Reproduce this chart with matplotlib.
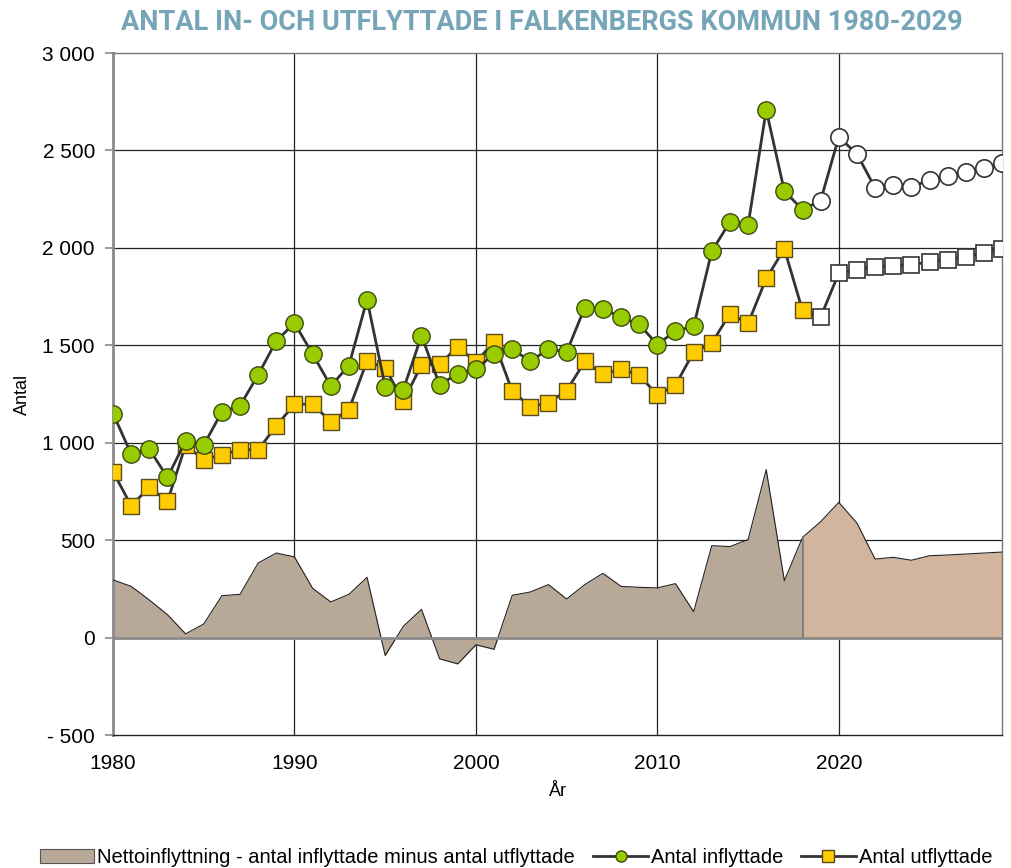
import matplotlib
matplotlib.use("Agg")
import matplotlib.pyplot as plt
import numpy as np
from matplotlib.ticker import FuncFormatter, FixedLocator
from matplotlib.patches import Patch
from matplotlib.lines import Line2D

years = list(range(1980, 2030))
last_actual = 2018

inflyttade = [1150, 942, 967, 822, 1010, 988, 1159, 1190, 1349, 1523,
              1614, 1455, 1291, 1396, 1735, 1288, 1273, 1549, 1297, 1355,
              1378, 1455, 1482, 1417, 1482, 1465, 1694, 1687, 1644, 1607,
              1504, 1574, 1597, 1983, 2133, 2116, 2708, 2292, 2196, 2243,
              2569, 2482, 2308, 2323, 2311, 2350, 2369, 2390, 2410, 2436]

utflyttade = [851, 677, 771, 699, 988, 913, 938, 964, 964, 1087,
              1198, 1198, 1108, 1169, 1420, 1382, 1215, 1398, 1404, 1492,
              1415, 1518, 1265, 1185, 1205, 1267, 1417, 1352, 1378, 1347,
              1245, 1296, 1465, 1511, 1663, 1612, 1843, 1995, 1679, 1645,
              1870, 1889, 1903, 1908, 1914, 1928, 1940, 1955, 1974, 1995]

netto = [296, 263, 193, 118, 19, 70, 215, 222, 383, 434,
         414, 253, 183, 222, 309, -92, 58, 145, -109, -135,
         -37, -60, 217, 234, 272, 198, 272, 330, 263, 258,
         255, 277, 133, 472, 467, 503, 862, 292, 514, 595,
         694, 588, 403, 412, 397, 420, 424, 429, 434, 439]

title = "ANTAL IN- OCH UTFLYTTADE I FALKENBERGS KOMMUN 1980-2029"
legend_labels = ["Nettoinflyttning - antal inflyttade minus antal utflyttade",
                 "Antal inflyttade", "Antal utflyttade"]
x_ticks = [1980, 1990, 2000, 2010, 2020]
y_ticks = [-500, 0, 500, 1000, 1500, 2000, 2500, 3000]

GREEN = "#99CC00"
YELLOW = "#FFCC00"
AREA_HIST = "#B8A898"
AREA_PROJ = "#D2B59C"
LINE = "#333333"

plt.rcParams['font.family'] = ['Liberation Sans', 'DejaVu Sans']

fig = plt.figure(figsize=(10.12, 8.68), dpi=100)
ax = fig.add_axes([0.1117, 0.1532, 0.8785, 0.7857])

yrs = np.array(years)
net = np.array(netto)
hist = yrs <= last_actual
proj = yrs >= last_actual

ax.fill_between(yrs[hist], 0, net[hist], color=AREA_HIST, zorder=2, linewidth=0)
ax.fill_between(yrs[proj], 0, net[proj], color=AREA_PROJ, zorder=2, linewidth=0)
ax.plot(yrs, net, color="#222222", lw=0.8, zorder=3)
ax.plot([last_actual, last_actual], [0, net[yrs == last_actual][0]], color="#777777", lw=1.2, zorder=3)

inf = np.array(inflyttade)
utf = np.array(utflyttade)
act = yrs <= last_actual
fut = yrs > last_actual

ax.plot(yrs, utf, color=LINE, lw=2.0, zorder=4)
ax.plot(yrs[act], utf[act], ls="none", marker="s", ms=11.5, mfc=YELLOW, mec="#5a4a20", mew=1.0, zorder=5)
ax.plot(yrs[fut], utf[fut], ls="none", marker="s", ms=11.5, mfc="white", mec=LINE, mew=1.2, zorder=5)

ax.plot(yrs, inf, color=LINE, lw=2.0, zorder=6)
ax.plot(yrs[act], inf[act], ls="none", marker="o", ms=12.5, mfc=GREEN, mec="#3a4a10", mew=1.0, zorder=7)
ax.plot(yrs[fut], inf[fut], ls="none", marker="o", ms=12.5, mfc="white", mec=LINE, mew=1.2, zorder=7)

ax.set_xlim(1980, 2029)
ax.set_ylim(-500, 3000)

# grid
for yv in y_ticks:
    if yv == 0:
        ax.axhline(0, color="#8a8a8a", lw=2.0, zorder=3.5)
    elif yv in (-500, 3000):
        pass
    else:
        ax.axhline(yv, color="#222222", lw=0.9, zorder=1)
for xv in x_ticks[1:]:
    ax.axvline(xv, color="#222222", lw=0.9, zorder=1)

for s in ["top", "right", "bottom"]:
    ax.spines[s].set_color("#777777")
    ax.spines[s].set_linewidth(1.0)
ax.spines["bottom"].set_color("#222222")
ax.spines["left"].set_color("#8a8a8a")
ax.spines["left"].set_linewidth(2.0)

ax.yaxis.set_major_locator(FixedLocator(y_ticks))
ax.xaxis.set_major_locator(FixedLocator(x_ticks))

def yfmt(v, pos):
    v = int(round(v))
    s = f"{abs(v):,}".replace(",", " ")
    return ("- " + s) if v < 0 else s

ax.yaxis.set_major_formatter(FuncFormatter(yfmt))
ax.tick_params(axis="y", length=6, width=1.2, color="#8a8a8a", labelsize=15, pad=7)
ax.tick_params(axis="x", length=0, labelsize=15, pad=14)

ax.set_xlabel("År", fontsize=13, labelpad=7)
ax.set_ylabel("Antal", fontsize=13, labelpad=8)

fig.text(0.535, 0.974, title, ha="center", va="center", fontsize=19.5,
         fontweight="bold", color="#76A5B8", family=["Roboto", "DejaVu Sans"])

handles = [Patch(facecolor=AREA_HIST, edgecolor="#555555", linewidth=0.8),
           Line2D([], [], color=LINE, lw=2, marker="o", ms=8, mfc=GREEN, mec="#3a4a10"),
           Line2D([], [], color=LINE, lw=2, marker="s", ms=8, mfc=YELLOW, mec="#5a4a20")]
fig.legend(handles, legend_labels, loc="lower center", bbox_to_anchor=(0.51, -0.02),
           ncol=3, frameon=False, handlelength=2.7, handletextpad=0.15,
           columnspacing=0.9, prop={"family": ["Liberation Sans"], "size": 14.5})

fig.savefig("out.png", dpi=100)
